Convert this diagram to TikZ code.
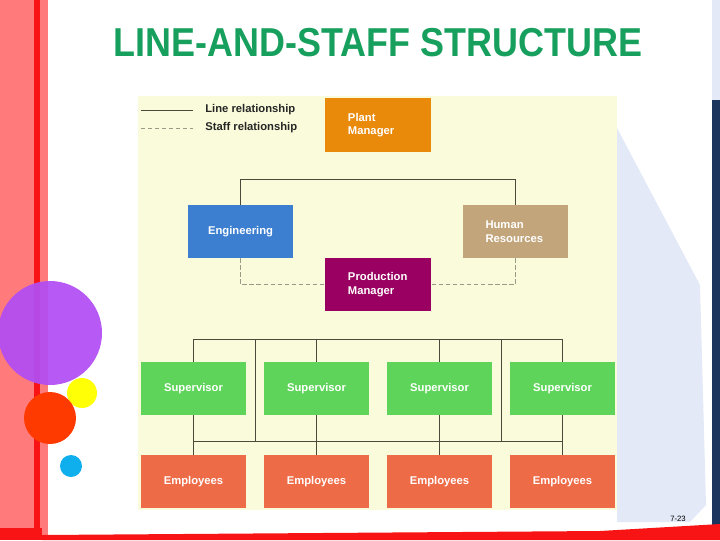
\documentclass[tikz,border=0pt]{standalone}
\usepackage{fontspec}
\setmainfont{Liberation Sans}
\usepackage{tikz}
\usetikzlibrary{positioning}

\definecolor{titlegreen}{HTML}{17A05D}
\definecolor{panelyel}{HTML}{FAFBDA}
\definecolor{plantorg}{HTML}{EA8A0A}
\definecolor{engblue}{HTML}{3C7ED0}
\definecolor{hrtan}{HTML}{C3A57C}
\definecolor{prodpur}{HTML}{990062}
\definecolor{supgreen}{HTML}{5ED55A}
\definecolor{emporg}{HTML}{EE6B47}
\definecolor{linec}{HTML}{4A4A3A}
\definecolor{staffc}{HTML}{9A9A88}
\definecolor{pinkbar}{HTML}{FF7B7B}
\definecolor{redbar}{HTML}{F81414}
\definecolor{skyblue}{HTML}{E3E9F6}
\definecolor{navy}{HTML}{1C355E}
\definecolor{dotpur}{HTML}{B14DF5}
\definecolor{dotred}{HTML}{FF3A00}
\definecolor{dotyel}{HTML}{FFFF05}
\definecolor{dotblue}{HTML}{0FAEEC}

\tikzset{
  unit/.style={minimum width=2.625cm, minimum height=1.325cm, inner sep=0pt,
               text=white, font=\bfseries\fontsize{8}{9.5}\selectfont},
  unitl/.style={unit, align=left, text width=1.5cm},
  line/.style={draw=linec, line width=0.6pt},
  staff/.style={draw=staffc, line width=0.6pt, dash pattern=on 3pt off 2pt},
  legend/.style={anchor=west, inner sep=0pt, text=black!85,
                 font=\bfseries\fontsize{8}{9.5}\selectfont},
}

\begin{document}
\begin{tikzpicture}[x=0.025cm, y=-0.025cm]
        \useasboundingbox (0,0) rectangle (720,540);
        \fill [white]    (0,0) rectangle (720,540);                    %page
        \fill [skyblue]  (617,128) -- (700,285) -- (706,505) -- (690,522) -- (617,522) -- cycle;
        \fill [skyblue]  (712,0) rectangle (720,100);                  %
        \fill [navy]     (712,100) rectangle (720,526);                %
        \fill [pinkbar]  (0,0) rectangle (48,540);                     %left strip
        \fill [redbar]   (34,0) rectangle (40,530);                    %
        \fill [redbar]   (0,528) rectangle (42,540);                   %bottom
        \fill [redbar]   (42,535) -- (600,531) -- (720,524) -- (720,540) -- (42,540) -- cycle;

        \fill [dotpur, opacity=0.92] (50,333) circle (52);            %
        \fill [dotyel]   (82,393) circle (15);                         %
        \fill [dotred]   (50,418) circle (26);                         %
        \fill [dotblue]  (71,466) circle (11);                         %

        \node (title) at (378,43) {\color{titlegreen}\bfseries\fontsize{28.7}{34}\selectfont
              \scalebox{0.89}[1]{LINE-AND-STAFF STRUCTURE}};
        \node (page) at (678,519) {\fontsize{5.5}{6}\selectfont 7-23};

        \fill [panelyel] (138,96) rectangle (617,510);                 %chart panel

        % legend
        \coordinate (lineA) at (141,110);
        \coordinate (lineB) at (193,110);
        \coordinate (dashA) at (141,128);
        \coordinate (dashB) at (193,128);
        \draw [line]  (lineA) -- (lineB);
        \draw [staff] (dashA) -- (dashB);
        \node [legend] (linetxt)  at (205,110) {Line relationship};
        \node [legend] (stafftxt) at (205,128) {Staff relationship};

        % units
        \node [unitl, fill=plantorg] (plant) at (378,125)   {Plant\\Manager};
        \node [unit,  fill=engblue]  (eng)   at (240.5,231.5) {Engineering};
        \node [unitl, fill=hrtan]    (hr)    at (515.5,231.5) {Human\\Resources};
        \node [unitl, fill=prodpur]  (prod)  at (378,284.5) {Production\\Manager};
        \foreach \i/\x in {1/193.5, 2/316.5, 3/439.5, 4/562.5} {
          \node [unit, fill=supgreen] (sup\i) at (\x,388.5) {Supervisor};
          \node [unit, fill=emporg]   (emp\i) at (\x,481.5) {Employees};
        }

        % line relationship
        \draw [line]  (eng.north) -- ++(0,-25) -| (hr.north);          %
        \coordinate (sbar) at (0,339);
        \coordinate (ebar) at (0,441);
        \draw [line]  (sup1.north) |- (sbar -| sup4.north) -- (sup4.north);
        \foreach \i in {2,3}
          \draw [line] (sup\i.north) -- (sup\i.north |- sbar);
        \draw [line]  (emp1.north) |- (ebar -| emp4.north) -- (emp4.north);
        \foreach \i in {1,...,4}
          \draw [line] (sup\i.south) -- (emp\i.north);
        \path (sup1.east) -- (sup2.west) coordinate [midway] (gapA);
        \path (sup3.east) -- (sup4.west) coordinate [midway] (gapB);
        \draw [line]  (gapA |- sbar) -- (gapA |- ebar);                %
        \draw [line]  (gapB |- sbar) -- (gapB |- ebar);                %

        % staff relationship
        \draw [staff] (eng.south) |- (prod.west);
        \draw [staff] (hr.south)  |- (prod.east);
\end{tikzpicture}
\end{document}
